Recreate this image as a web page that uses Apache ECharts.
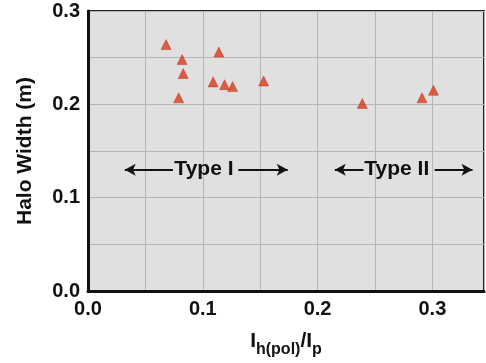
<!DOCTYPE html>
<html>
<head>
<meta charset="utf-8">
<script src="https://cdn.jsdelivr.net/npm/echarts@6/dist/echarts.min.js"></script>
<style>
  html, body { margin: 0; padding: 0; background: #fff; }
  #chart { width: 486px; height: 363px; }
</style>
</head>
<body>
<div id="chart"></div>
<script>
// halo width vs current ratio
const ratio = [0.068, 0.082, 0.083, 0.079, 0.114, 0.109, 0.119, 0.126, 0.153, 0.239, 0.291, 0.301]
const haloWidth = [0.264, 0.248, 0.233, 0.207, 0.256, 0.224, 0.221, 0.219, 0.225, 0.201, 0.207, 0.215]
const xTicks = [0.0, 0.1, 0.2, 0.3]
const yTicks = [0.0, 0.1, 0.2, 0.3]
const typeNames = ['Type I', 'Type II']

// where the "<-- Type --->" notes sit, in data units
const notes = [
  { y: 0.13, left: [0.032, 0.074], text: 0.101, right: [0.131, 0.174] },
  { y: 0.13, left: [0.215, 0.240], text: 0.269, right: [0.302, 0.335] },
]

const font = '"Liberation Sans", Arial, sans-serif'
const isTick = (ticks) => (v) => ticks.some(t => Math.abs(t - v) < 1e-6) ? v.toFixed(1) : ''

const chart = echarts.init(document.getElementById('chart'))

const segments = []
notes.forEach(n => {
  segments.push([{ coord: [n.left[0], n.y], symbol: 'arrow' }, { coord: [n.left[1], n.y], symbol: 'none' }])
  segments.push([{ coord: [n.right[0], n.y], symbol: 'none' }, { coord: [n.right[1], n.y], symbol: 'arrow' }])
})

chart.setOption({
  backgroundColor: '#fff',
  animation: false,
  grid: {
    left: 88, right: 2, top: 11, bottom: 71,
    show: true,
    backgroundColor: '#e0e0e0',
    borderColor: '#222',
    borderWidth: 2,
  },
  xAxis: {
    type: 'value',
    min: 0, max: 0.345, interval: 0.05,
    name: '{i|I}{s|h(pol)}{i|/I}{s|p}',
    nameLocation: 'middle',
    nameGap: 40,
    nameTextStyle: {
      rich: {
        i: { fontFamily: font, fontWeight: 'bold', fontSize: 21, color: '#111', verticalAlign: 'top', padding: [0, 0, 6, 0] },
        s: { fontFamily: font, fontWeight: 'bold', fontSize: 16, color: '#111', verticalAlign: 'bottom' },
      },
    },
    axisLine: { show: true, onZero: false, lineStyle: { color: '#111', width: 3 } },
    axisTick: { show: false },
    axisLabel: { formatter: isTick(xTicks), fontFamily: font, fontWeight: 'bold', fontSize: 20, color: '#111', margin: 8, showMaxLabel: false },
    splitLine: { show: true, lineStyle: { color: '#b5b5b5', width: 1 } },
  },
  yAxis: {
    type: 'value',
    min: 0, max: 0.3, interval: 0.05,
    name: 'Halo Width (m)',
    nameLocation: 'middle',
    nameGap: 52,
    nameTextStyle: { fontFamily: font, fontWeight: 'bold', fontSize: 21, color: '#111' },
    axisLine: { show: true, onZero: false, lineStyle: { color: '#111', width: 3 } },
    axisTick: { show: false },
    axisLabel: { formatter: isTick(yTicks), fontFamily: font, fontWeight: 'bold', fontSize: 20, color: '#111', margin: 8 },
    splitLine: { show: true, lineStyle: { color: '#b5b5b5', width: 1 } },
  },
  series: [
    {
      type: 'scatter',
      symbol: 'triangle',
      symbolSize: 10,
      itemStyle: { color: '#dc3a1c', borderColor: '#b02810', borderWidth: 0.5 },
      data: ratio.map((x, i) => [x, haloWidth[i]]),
      z: 5,
      markLine: {
        silent: true,
        symbolSize: [9, 11],
        lineStyle: { color: '#111', width: 2, type: 'solid' },
        label: { show: false },
        data: segments,
      },
      markPoint: {
        silent: true,
        symbol: 'rect',
        symbolSize: 0,
        itemStyle: { color: 'transparent' },
        label: { show: true, position: 'inside', fontFamily: font, fontWeight: 'bold', fontSize: 21, color: '#111' },
        data: notes.map((n, i) => ({ coord: [n.text, n.y], value: typeNames[i], label: { formatter: typeNames[i] } })),
      },
    },
  ],
})
</script>
</body>
</html>
